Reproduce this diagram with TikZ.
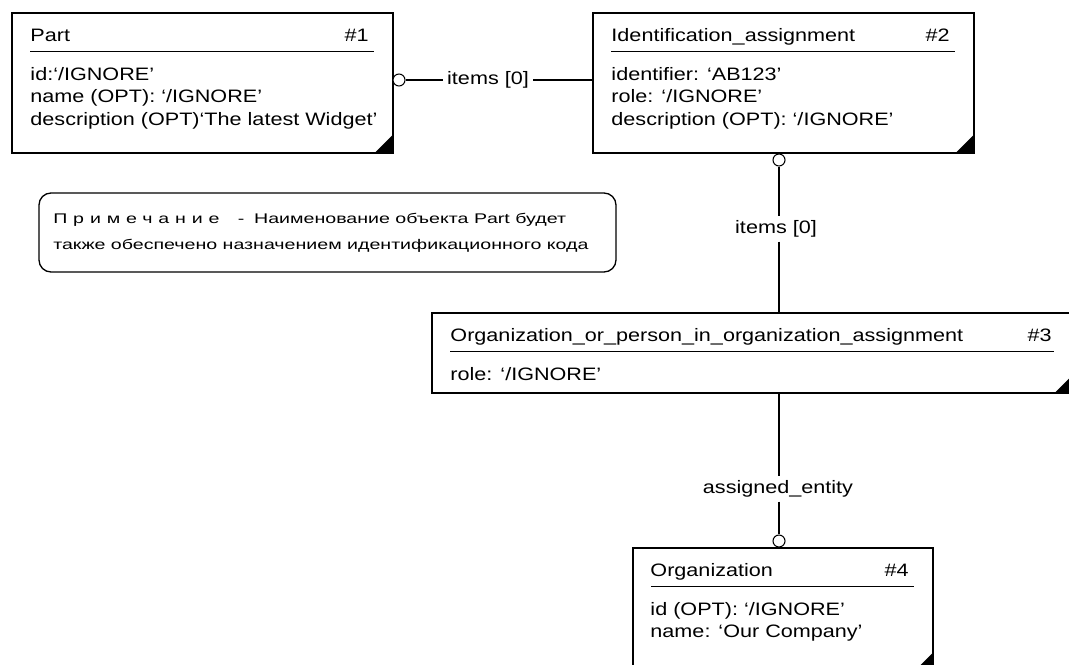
\documentclass[tikz,border=0pt]{standalone}
\usepackage{fontspec}
\setmainfont{Liberation Sans}[FakeStretch=1.2]
\newfontfamily\notefont{Liberation Sans}[FakeStretch=1.4]
\usepackage{tikz}
\usetikzlibrary{positioning, fit}

\begin{document}
\begin{tikzpicture}[
    x=0.75pt, y=-0.75pt,
    font=\fontsize{13.5}{16.9}\selectfont,
    entity/.style={draw=black, line width=1.2pt, inner sep=0pt},
    etitle/.style={anchor=base west, inner sep=0pt},
    enum/.style={anchor=base east, inner sep=0pt},
    attrs/.style={anchor=base west, inner sep=0pt, align=left},
    sepline/.style={line width=0.9pt},
    ring/.style={circle, draw=black, fill=white, line width=0.8pt,
        inner sep=0pt, minimum size=9pt},
    rel/.style={line width=0.8pt},
    rlabel/.style={inner sep=3pt},
    notebox/.style={draw=black, line width=1pt, rounded corners=9pt, inner sep=0pt},
    notetext/.style={inner sep=0pt, align=left,
        font=\notefont\fontsize{10.5}{19.5}\selectfont}
]
\path[use as bounding box, fill=white] (0,0) rectangle (1069,664);

% ===== Entity boxes =====
\node[entity, fit={(12,13) (393,153)}] (part) {};
\node[entity, fit={(593,13) (974,153)}] (ident) {};
\node[entity, fit={(432,313) (1073,393)}] (orgasg) {};
\node[entity, fit={(633,548) (933,671)}] (org) {};

% titles, numbers and separators
\node[etitle] (partT) at ([shift={(19,29)}]part.north west) {Part};
\node[enum] (partN) at ([shift={(-25,29)}]part.north east) {\#1};
\node[etitle] (identT) at ([shift={(19,29)}]ident.north west) {Identification\_assignment};
\node[enum] (identN) at ([shift={(-25,29)}]ident.north east) {\#2};
\node[etitle] (orgasgT) at ([shift={(19,29)}]orgasg.north west)
    {Organization\_or\_person\_in\_organization\_assignment};
\node[enum] (orgasgN) at ([shift={(-22,29)}]orgasg.north east) {\#3};
\node[etitle] (orgT) at ([shift={(18,29)}]org.north west) {Organization};
\node[enum] (orgN) at ([shift={(-25,29)}]org.north east) {\#4};

\foreach \b in {part, ident, orgasg, org} {
    \draw[sepline] ([shift={(19,39)}]\b.north west) -- ([shift={(-20,39)}]\b.north east);
    \fill (\b.south east) -- ++(-20,0) -- ++(20,-20) -- cycle;
}

% attributes (node base = baseline of the last line)
\node[attrs] (partA) at ([shift={(19,113)}]part.north west) {%
    id:`/IGNORE'\\
    name (OPT): `/IGNORE'\\
    description (OPT)`The latest Widget'};
\node[attrs] (identA) at ([shift={(19,113)}]ident.north west) {%
    identifier: `AB123'\\
    role: `/IGNORE'\\
    description (OPT): `/IGNORE'};
\node[attrs] (orgasgA) at ([shift={(19,68)}]orgasg.north west) {role: `/IGNORE'};
\node[attrs] (orgA) at ([shift={(18,90.5)}]org.north west) {%
    id (OPT): `/IGNORE'\\
    name: `Our Company'};

% ===== Note =====
\node[notebox, fit={(39,193) (616,272)}] (note) {};
\node[notetext, right=11pt of note.west] (noteT) {%
    {\addfontfeature{LetterSpace=42}Примечание}\hspace{1.3em}-\hspace{0.7em}Наименование объекта Part будет\\
    также обеспечено назначением идентификационного кода};

% ===== Relationships =====
\node[ring] (r1) at (399,80) {};
\node[rlabel] (l1) at (488,80) {items [0]};
\draw[rel] (r1) -- (l1);
\draw[rel] (l1) -- (l1 -| ident.west);

\node[ring] (r2) at (779,160) {};
\node[rlabel] (l2) at (776,229) {items [0]};
\draw[rel] (r2) -- (r2 |- l2.north);
\draw[rel] (r2 |- l2.south) -- (r2 |- orgasg.north);

\node[rlabel] (l3) at (778,489) {assigned\_entity};
\node[ring] (r4) at (779,541) {};
\draw[rel] (r2 |- orgasg.south) -- (r2 |- l3.north);
\draw[rel] (r2 |- l3.south) -- (r4);

\end{tikzpicture}
\end{document}
